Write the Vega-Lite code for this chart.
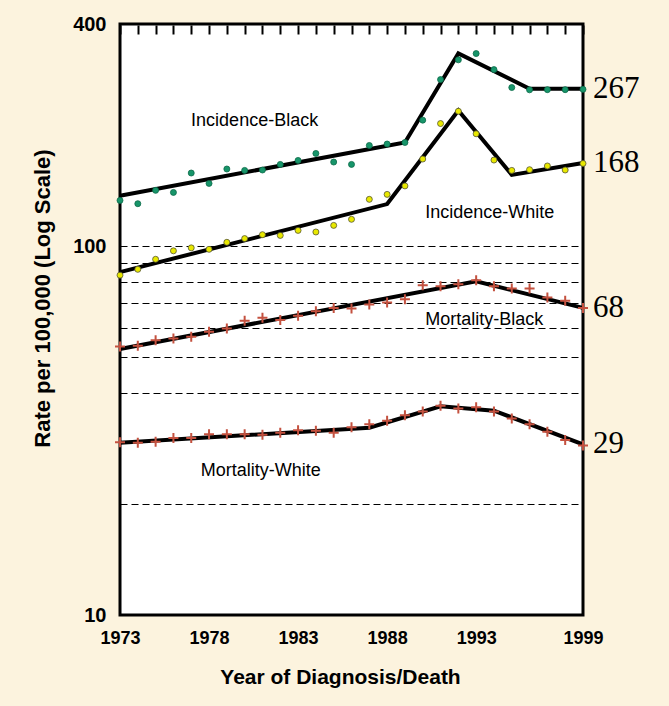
{
  "$schema": "https://vega.github.io/schema/vega-lite/v6.json",
  "width": 463,
  "height": 591,
  "autosize": {"type": "none"},
  "padding": {"left": 120, "top": 24, "right": 86, "bottom": 91},
  "background": "#fcf3de",
  "config": {
    "view": {"stroke": "black", "strokeWidth": 3, "fill": "white"},
    "font": "Liberation Sans"
  },
  "datasets": {
    "fit": [
      {"series": "Incidence-Black", "year": 1973, "rate": 137},
      {"series": "Incidence-Black", "year": 1989, "rate": 191},
      {"series": "Incidence-Black", "year": 1992, "rate": 333},
      {"series": "Incidence-Black", "year": 1996, "rate": 267},
      {"series": "Incidence-Black", "year": 1999, "rate": 267},
      {"series": "Incidence-White", "year": 1973, "rate": 85},
      {"series": "Incidence-White", "year": 1988, "rate": 130},
      {"series": "Incidence-White", "year": 1992, "rate": 233},
      {"series": "Incidence-White", "year": 1995, "rate": 156},
      {"series": "Incidence-White", "year": 1999, "rate": 168},
      {"series": "Mortality-Black", "year": 1973, "rate": 52.6},
      {"series": "Mortality-Black", "year": 1993, "rate": 80.3},
      {"series": "Mortality-Black", "year": 1999, "rate": 68},
      {"series": "Mortality-White", "year": 1973, "rate": 29.3},
      {"series": "Mortality-White", "year": 1987, "rate": 32.2},
      {"series": "Mortality-White", "year": 1991, "rate": 36.8},
      {"series": "Mortality-White", "year": 1994, "rate": 35.8},
      {"series": "Mortality-White", "year": 1999, "rate": 29}
    ],
    "ib": [
      {"year": 1973, "rate": 133.0}, {"year": 1974, "rate": 130.3}, {"year": 1975, "rate": 141.6},
      {"year": 1976, "rate": 139.8}, {"year": 1977, "rate": 157.8}, {"year": 1978, "rate": 147.9},
      {"year": 1979, "rate": 161.8}, {"year": 1980, "rate": 160.4}, {"year": 1981, "rate": 160.8},
      {"year": 1982, "rate": 166.5}, {"year": 1983, "rate": 170.7}, {"year": 1984, "rate": 178.3},
      {"year": 1985, "rate": 169.0}, {"year": 1986, "rate": 166.5}, {"year": 1987, "rate": 187.4},
      {"year": 1988, "rate": 189.1}, {"year": 1989, "rate": 190.9}, {"year": 1990, "rate": 219.5},
      {"year": 1991, "rate": 282.8}, {"year": 1992, "rate": 319.8}, {"year": 1993, "rate": 332.6},
      {"year": 1994, "rate": 300.9}, {"year": 1995, "rate": 269.1}, {"year": 1996, "rate": 265.2},
      {"year": 1997, "rate": 265.5}, {"year": 1998, "rate": 265.5}, {"year": 1999, "rate": 266}
    ],
    "iw": [
      {"year": 1973, "rate": 83.4}, {"year": 1974, "rate": 86.5}, {"year": 1975, "rate": 92.1},
      {"year": 1976, "rate": 97.1}, {"year": 1977, "rate": 98.9}, {"year": 1978, "rate": 98.0},
      {"year": 1979, "rate": 102.4}, {"year": 1980, "rate": 104.8}, {"year": 1981, "rate": 107.4},
      {"year": 1982, "rate": 106.9}, {"year": 1983, "rate": 110.3}, {"year": 1984, "rate": 109.2},
      {"year": 1985, "rate": 113.8}, {"year": 1986, "rate": 118.2}, {"year": 1987, "rate": 133.9},
      {"year": 1988, "rate": 138.1}, {"year": 1989, "rate": 145.6}, {"year": 1990, "rate": 172.2},
      {"year": 1991, "rate": 214.9}, {"year": 1992, "rate": 232}, {"year": 1993, "rate": 201.6},
      {"year": 1994, "rate": 171.1}, {"year": 1995, "rate": 160.4}, {"year": 1996, "rate": 161.1},
      {"year": 1997, "rate": 164.9}, {"year": 1998, "rate": 160.8}, {"year": 1999, "rate": 167.5}
    ],
    "mort": [
      {"year": 1973, "rate": 53.4}, {"year": 1974, "rate": 53.7}, {"year": 1975, "rate": 55.6},
      {"year": 1976, "rate": 56.2}, {"year": 1977, "rate": 56.8}, {"year": 1978, "rate": 58.6},
      {"year": 1979, "rate": 59.8}, {"year": 1980, "rate": 62.8}, {"year": 1981, "rate": 63.9},
      {"year": 1982, "rate": 63.0}, {"year": 1983, "rate": 64.7}, {"year": 1984, "rate": 66.6},
      {"year": 1985, "rate": 68.0}, {"year": 1986, "rate": 67.7}, {"year": 1987, "rate": 69.4},
      {"year": 1988, "rate": 70.3}, {"year": 1989, "rate": 71.8}, {"year": 1990, "rate": 78.3},
      {"year": 1991, "rate": 77.8}, {"year": 1992, "rate": 78.8}, {"year": 1993, "rate": 80.8},
      {"year": 1994, "rate": 77.8}, {"year": 1995, "rate": 76.7}, {"year": 1996, "rate": 76.7},
      {"year": 1997, "rate": 72.5}, {"year": 1998, "rate": 71.1}, {"year": 1999, "rate": 68.0},
      {"year": 1973, "rate": 29.4}, {"year": 1974, "rate": 29.3}, {"year": 1975, "rate": 29.5},
      {"year": 1976, "rate": 30.2}, {"year": 1977, "rate": 30.2}, {"year": 1978, "rate": 30.9},
      {"year": 1979, "rate": 30.9}, {"year": 1980, "rate": 30.9}, {"year": 1981, "rate": 30.8},
      {"year": 1982, "rate": 31.2}, {"year": 1983, "rate": 31.7}, {"year": 1984, "rate": 31.6},
      {"year": 1985, "rate": 31.2}, {"year": 1986, "rate": 32.3}, {"year": 1987, "rate": 32.9},
      {"year": 1988, "rate": 33.6}, {"year": 1989, "rate": 34.8}, {"year": 1990, "rate": 35.6},
      {"year": 1991, "rate": 36.9}, {"year": 1992, "rate": 36.3}, {"year": 1993, "rate": 36.6},
      {"year": 1994, "rate": 35.6}, {"year": 1995, "rate": 34.1}, {"year": 1996, "rate": 32.9},
      {"year": 1997, "rate": 31.4}, {"year": 1998, "rate": 29.8}, {"year": 1999, "rate": 28.8}
    ],
    "years": [
      {"year": 1973}, {"year": 1974}, {"year": 1975}, {"year": 1976}, {"year": 1977}, {"year": 1978},
      {"year": 1979}, {"year": 1980}, {"year": 1981}, {"year": 1982}, {"year": 1983}, {"year": 1984},
      {"year": 1985}, {"year": 1986}, {"year": 1987}, {"year": 1988}, {"year": 1989}, {"year": 1990},
      {"year": 1991}, {"year": 1992}, {"year": 1993}, {"year": 1994}, {"year": 1995}, {"year": 1996},
      {"year": 1997}, {"year": 1998}, {"year": 1999}
    ],
    "names": [
      {"label": "Incidence-Black", "year": 1980.56, "rate": 218.3},
      {"label": "Incidence-White", "year": 1993.76, "rate": 123.2},
      {"label": "Mortality-Black", "year": 1993.45, "rate": 63.0},
      {"label": "Mortality-White", "year": 1980.9, "rate": 24.5}
    ],
    "ends": [
      {"label": "267", "year": 1999, "rate": 267},
      {"label": "168", "year": 1999, "rate": 168},
      {"label": "68", "year": 1999, "rate": 68},
      {"label": "29", "year": 1999, "rate": 29}
    ]
  },
  "encoding": {
    "x": {"field": "year", "type": "quantitative", "scale": {"domain": [1973, 1999], "nice": false, "zero": false}, "axis": null},
    "y": {
      "field": "rate", "type": "quantitative",
      "scale": {"type": "log", "domain": [10, 400], "nice": false},
      "title": "Rate per 100,000 (Log Scale)",
      "axis": {
        "values": [10, 20, 40, 50, 60, 70, 80, 90, 100, 400],
        "format": "d",
        "labelExpr": "(datum.value == 10 || datum.value == 100 || datum.value == 400) ? datum.label : ''",
        "ticks": false,
        "domain": false,
        "grid": true,
        "gridColor": "black",
        "gridDash": [7, 4],
        "gridWidth": 1,
        "gridOpacity": 1,
        "labelFont": "Liberation Sans",
        "labelFontSize": 20,
        "labelFontWeight": "bold",
        "labelColor": "black",
        "labelPadding": 14,
        "labelOverlap": false,
        "labelFlush": false,
        "titleFont": "Liberation Sans",
        "titleFontSize": 22,
        "titleFontWeight": "bold",
        "titleColor": "black",
        "titleAngle": -90,
        "titleX": -78,
        "titleY": 274,
        "titleBaseline": "middle",
        "titleAlign": "center"
      }
    }
  },
  "layer": [
    {
      "data": {"name": "fit"},
      "mark": {"type": "line", "color": "black", "strokeWidth": 4, "strokeJoin": "miter"},
      "encoding": {
        "detail": {"field": "series"},
        "x": {
          "field": "year", "type": "quantitative",
          "scale": {"domain": [1973, 1999], "nice": false, "zero": false},
          "title": "Year of Diagnosis/Death",
          "axis": {
            "orient": "bottom",
            "values": [1973, 1978, 1983, 1988, 1993, 1999],
            "format": "d",
            "ticks": false,
            "domain": false,
            "grid": false,
            "labelFont": "Liberation Sans",
            "labelFontSize": 18,
            "labelFontWeight": "bold",
            "labelColor": "black",
            "labelPadding": 14,
            "labelOverlap": false,
            "labelFlush": false,
            "labelBound": false,
            "titleFont": "Liberation Sans",
            "titleFontSize": 21,
            "titleFontWeight": "bold",
            "titleColor": "black",
            "titleX": 220,
            "titleY": 51,
            "titleBaseline": "top",
            "titleAlign": "center"
          }
        }
      }
    },
    {
      "data": {"name": "years"},
      "mark": {"type": "rule", "color": "black", "strokeWidth": 2},
      "encoding": {
        "y": {"datum": 10, "type": "quantitative"},
        "y2": {"datum": 9.45}
      }
    },
    {
      "data": {"name": "ib"},
      "mark": {"type": "point", "shape": "circle", "filled": true, "fill": "#17956a", "stroke": "#0b6a48", "strokeWidth": 0.8, "size": 36, "opacity": 1},
      "encoding": {
        "x": {
          "field": "year", "type": "quantitative",
          "scale": {"domain": [1973, 1999], "nice": false, "zero": false},
          "axis": {
            "orient": "top",
            "offset": -10,
            "values": [1973, 1974, 1975, 1976, 1977, 1978, 1979, 1980, 1981, 1982, 1983, 1984, 1985, 1986, 1987, 1988, 1989, 1990, 1991, 1992, 1993, 1994, 1995, 1996, 1997, 1998, 1999],
            "labels": false,
            "ticks": true,
            "tickSize": 9,
            "tickWidth": 2,
            "tickColor": "black",
            "tickOpacity": 1,
            "domain": false,
            "grid": false,
            "title": null
          }
        }
      }
    },
    {
      "data": {"name": "iw"},
      "mark": {"type": "point", "shape": "circle", "filled": true, "fill": "#e8e800", "stroke": "#555533", "strokeWidth": 0.8, "size": 36, "opacity": 1}
    },
    {
      "data": {"name": "mort"},
      "mark": {"type": "point", "shape": "M-1,0L1,0M0,-1L0,1", "filled": false, "stroke": "#c4513f", "strokeWidth": 2, "size": 100, "opacity": 1}
    },
    {
      "data": {"name": "names"},
      "mark": {"type": "text", "font": "Liberation Sans", "fontSize": 18, "color": "black", "align": "center", "baseline": "middle"},
      "encoding": {"text": {"field": "label"}}
    },
    {
      "data": {"name": "ends"},
      "mark": {"type": "text", "font": "Liberation Serif", "fontSize": 31, "color": "black", "align": "left", "baseline": "middle", "dx": 10},
      "encoding": {"text": {"field": "label"}}
    }
  ],
  "resolve": {"axis": {"x": "independent"}}
}
